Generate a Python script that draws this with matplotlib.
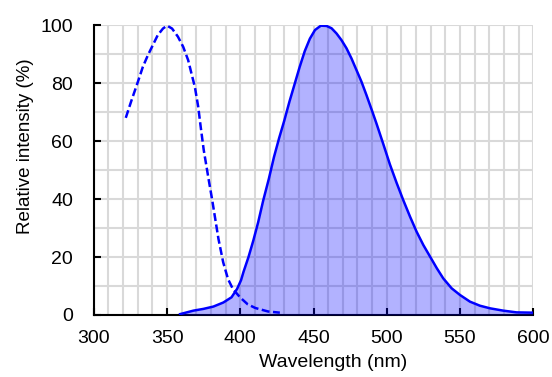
import matplotlib
matplotlib.use("Agg")
import matplotlib.pyplot as plt
from matplotlib.ticker import MultipleLocator

plt.rcParams['font.family'] = ['Liberation Sans', 'DejaVu Sans']

# Excitation spectrum (dashed)
exWavelength = [321.8, 325.7, 330.0, 333.4, 336.8, 340.2, 343.6, 347.2, 350.0, 353.4,
                357.4, 361.0, 364.4, 366.7, 369.0, 371.3, 372.8, 375.0, 378.3, 380.7,
                382.9, 385.1, 388.3, 391.6, 395.0, 400.0, 405.0, 410.3, 419.0, 427.0]
exIntensity = [68.0, 74.0, 80.3, 85.5, 89.5, 93.0, 96.5, 98.8, 99.8, 98.8,
               96.0, 92.5, 87.9, 83.2, 78.6, 71.7, 65.5, 57.0, 47.0, 40.0,
               33.1, 26.2, 18.2, 12.4, 8.9, 6.0, 3.7, 2.4, 1.2, 0.8]

# Emission spectrum (solid, filled)
emWavelength = [358.9, 368.0, 374.8, 381.6, 388.4, 394.0, 397.8, 400.5, 402.2, 405.6,
                408.9, 412.2, 415.6, 419.5, 423.0, 426.5, 430.0, 433.5, 437.0, 440.5,
                444.0, 447.5, 451.0, 455.0, 458.9, 462.3, 465.7, 469.1, 472.5, 475.9,
                479.3, 482.7, 486.1, 489.9, 493.0, 497.6, 502.1, 506.7, 511.2, 515.9,
                520.4, 525.0, 529.6, 534.2, 538.6, 544.3, 550.0, 556.8, 563.6, 570.5,
                579.5, 588.6, 599.5]
emIntensity = [0.3, 1.5, 2.1, 2.9, 4.3, 6.1, 9.0, 12.0, 14.9, 20.0,
               25.7, 32.0, 39.4, 47.0, 54.5, 61.0, 67.0, 73.5, 79.5, 85.5,
               91.0, 95.3, 98.3, 99.8, 99.7, 98.9, 97.1, 94.8, 92.0, 88.5,
               84.5, 80.5, 75.9, 70.5, 66.0, 59.0, 52.0, 45.6, 39.7, 33.9,
               28.7, 24.1, 20.1, 16.1, 12.6, 9.2, 6.9, 4.6, 3.2, 2.3,
               1.5, 0.9, 0.8]

fig = plt.figure(figsize=(5.52, 3.77), dpi=100)
ax = fig.add_axes([0.170, 0.1645, 0.796, 0.769])

# Grid every 10 units, labelled ticks every 50 / 20
ax.xaxis.set_minor_locator(MultipleLocator(10))
ax.yaxis.set_minor_locator(MultipleLocator(10))
ax.grid(True, which='both', color='#d9d9d9', linewidth=1.5)
ax.set_axisbelow(True)

ax.fill_between(emWavelength, emIntensity, 0, color='blue', alpha=0.3, linewidth=0, zorder=3)
ax.plot(emWavelength, emIntensity, color='blue', linewidth=1.8, zorder=4)
ax.plot(exWavelength, exIntensity, color='blue', linewidth=1.8, linestyle=(0, (3.2, 1.4)), zorder=4)

ax.set_xlim(300, 600)
ax.set_ylim(0, 100)
ax.set_xticks(range(300, 601, 50))
ax.set_yticks(range(0, 101, 20))

for side in ['top', 'right']:
    ax.spines[side].set_visible(False)
for side in ['left', 'bottom']:
    ax.spines[side].set_linewidth(1.5)
    ax.spines[side].set_zorder(2.5)

ax.tick_params(which='major', direction='in', length=5, width=1.5, labelsize=14)
ax.tick_params(axis='x', pad=11)
ax.tick_params(axis='y', pad=15)
ax.tick_params(which='minor', length=0)

ax.set_xlabel('Wavelength (nm)', fontsize=14)
ax.set_ylabel('Relative intensity (%)', fontsize=13.5)
ax.xaxis.set_label_coords(0.544, -0.136)
ax.yaxis.set_label_coords(-0.137, 0.583)

plt.savefig('out.png', dpi=100)
plt.close()
